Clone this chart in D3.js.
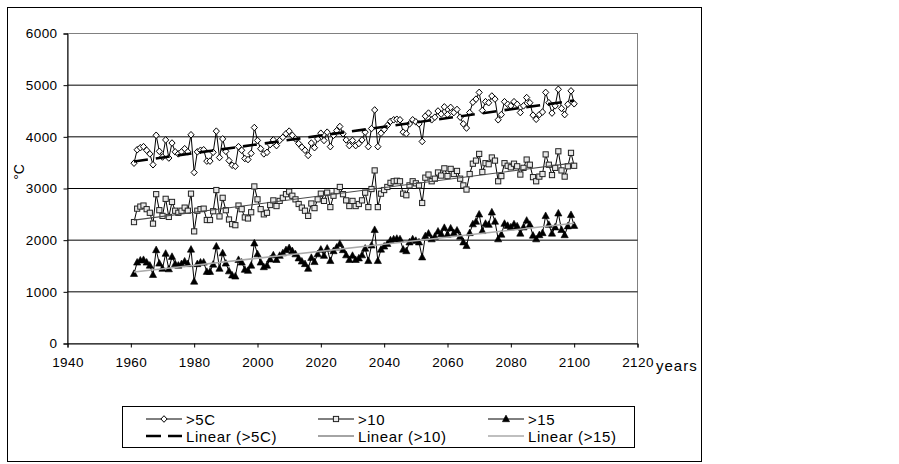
<!DOCTYPE html>
<html><head><meta charset="utf-8">
<script src="https://cdn.jsdelivr.net/npm/d3@7"></script>
<style>body{margin:0;background:#fff}svg{display:block}text{font-family:"Liberation Sans",Arial,sans-serif;fill:#000}</style>
</head><body><svg id="c" width="899" height="464"></svg>
<script>
const startYear = 1961;
const yTicks = [0,1000,2000,3000,4000,5000,6000];
const xTicks = [1940,1960,1980,2000,2020,2040,2060,2080,2100,2120];
const seriesNames = [">5C", ">10", ">15"];
const trendNames = ["Linear (>5C)", "Linear (>10)", "Linear (>15)"];
const gt5 = [
3490,3750,3790,3810,3740,3670,3460,4030,3720,3610,
3940,3590,3880,3710,3670,3710,3770,3710,4040,3310,
3710,3740,3750,3530,3530,3700,4110,3600,3960,3720,
3540,3450,3430,3810,3740,3580,3560,3680,4180,3930,
3770,3670,3700,3850,3940,3830,3930,3990,4060,4110,
4030,3960,3870,3800,3740,3640,3880,3790,3960,4070,
3930,4090,3810,4030,4120,4200,4060,3940,3830,3930,
3830,3870,3940,4090,3810,4160,4520,3810,4070,4140,
4220,4300,4330,4340,4330,4090,4060,4250,4330,4290,
4250,3910,4400,4460,4330,4380,4500,4440,4580,4430,
4570,4470,4530,4380,4250,4170,4470,4670,4730,4860,
4510,4680,4660,4790,4730,4330,4430,4680,4630,4600,
4680,4630,4470,4600,4760,4660,4420,4340,4430,4480,
4860,4660,4460,4600,4920,4550,4430,4630,4890,4640];
const gt10 = [
2350,2610,2650,2670,2600,2530,2320,2890,2580,2470,
2800,2450,2740,2570,2530,2570,2630,2570,2900,2170,
2570,2600,2610,2390,2390,2560,2970,2460,2820,2580,
2400,2310,2290,2670,2600,2440,2420,2540,3040,2790,
2600,2500,2530,2680,2770,2660,2760,2820,2890,2940,
2860,2790,2700,2630,2570,2470,2710,2620,2790,2900,
2760,2920,2640,2860,2950,3030,2890,2770,2660,2760,
2660,2700,2770,2920,2640,2990,3350,2640,2900,2970,
3030,3110,3140,3150,3140,2900,2870,3060,3140,3100,
3060,2720,3210,3270,3140,3190,3310,3250,3390,3240,
3380,3280,3340,3190,3060,2980,3280,3480,3540,3670,
3320,3490,3470,3600,3540,3140,3240,3490,3440,3410,
3480,3430,3270,3400,3560,3460,3220,3140,3230,3280,
3660,3460,3260,3400,3720,3350,3230,3430,3690,3440];
const gt15 = [
1350,1570,1610,1620,1570,1510,1330,1810,1550,1450,
1740,1440,1680,1540,1510,1540,1590,1540,1820,1200,
1540,1570,1570,1390,1390,1530,1880,1450,1750,1550,
1400,1320,1300,1620,1570,1430,1410,1510,1940,1730,
1570,1480,1510,1630,1710,1620,1700,1750,1810,1850,
1790,1730,1650,1590,1540,1450,1660,1580,1730,1820,
1700,1840,1600,1790,1860,1930,1810,1710,1620,1700,
1620,1650,1710,1840,1600,1900,2200,1600,1820,1880,
1930,2000,2020,2030,2020,1820,1790,1960,2020,1990,
1960,1670,2080,2130,2020,2070,2170,2120,2240,2110,
2230,2140,2190,2070,1960,1890,2140,2310,2360,2500,
2180,2320,2300,2540,2360,2020,2110,2320,2280,2250,
2310,2270,2130,2250,2380,2300,2090,2020,2100,2140,
2470,2300,2130,2250,2520,2200,2100,2270,2490,2280];

const svg = d3.select("#c");
svg.append("rect").attr("x",7.5).attr("y",7.5).attr("width",694).attr("height",454)
  .attr("fill","#fff").attr("stroke","#000").attr("stroke-width",1);

const x = d3.scaleLinear().domain([1940,2120]).range([67.5,637.5]);
const y = d3.scaleLinear().domain([0,6000]).range([343.5,33.5]);

svg.append("rect").attr("x",67.5).attr("y",33.5).attr("width",570).attr("height",310)
  .attr("fill","none").attr("stroke","#808080").attr("stroke-width",1);
svg.append("g").selectAll("line").data(yTicks.filter(v=>v>0&&v<6000)).join("line")
  .attr("x1",67.5).attr("x2",637.5).attr("y1",d=>y(d)).attr("y2",d=>y(d))
  .attr("stroke","#000").attr("stroke-width",1);

const tickFont = g => g.selectAll("text").attr("font-size",13.5).attr("letter-spacing","0.4px")
  .style("font-family","Liberation Sans, Arial, sans-serif");
const yAxis = d3.axisLeft(y).tickValues(yTicks).tickSize(4).tickPadding(6).tickFormat(d3.format("d"));
const gy = svg.append("g").attr("transform","translate(67.5,0)").call(yAxis);
gy.select(".domain").attr("stroke","#000");
tickFont(gy);
const xAxis = d3.axisBottom(x).tickValues(xTicks).tickSize(4).tickPadding(10).tickFormat(d3.format("d"));
const gx = svg.append("g").attr("transform","translate(0,343.5)").call(xAxis);
gx.select(".domain").attr("stroke","#000");
tickFont(gx);

svg.append("text").attr("x",656).attr("y",371).attr("font-size",15).attr("letter-spacing","1px").text("years");
svg.append("text").attr("transform","translate(24,172) rotate(-90)").attr("text-anchor","middle")
  .attr("font-size",14).text("°C");

const years = d3.range(gt5.length).map(i=>startYear+i);
const datasets = [gt5, gt10, gt15];
const line = d3.line().x((d,i)=>x(years[i])).y(d=>y(d));

function marker(g, kind, cx, cy){
  if(kind===0){
    g.append("path").attr("d",`M${cx},${cy-3.3}L${cx+3.1},${cy}L${cx},${cy+3.3}L${cx-3.1},${cy}Z`)
      .attr("fill","#fff").attr("stroke","#000").attr("stroke-width",1);
  } else if(kind===1){
    g.append("rect").attr("x",cx-2.6).attr("y",cy-2.6).attr("width",5.2).attr("height",5.2)
      .attr("fill","#e8e8e8").attr("stroke","#222").attr("stroke-width",1);
  } else {
    g.append("path").attr("d",`M${cx},${cy-3.9}L${cx+3.6},${cy+2.7}L${cx-3.6},${cy+2.7}Z`)
      .attr("fill","#000").attr("stroke","#000").attr("stroke-width",0.6);
  }
}

datasets.forEach((ds,k)=>{
  svg.append("path").attr("d",line(ds)).attr("fill","none").attr("stroke","#000").attr("stroke-width",1);
  const g = svg.append("g");
  ds.forEach((v,i)=>marker(g,k,x(years[i]),y(v)));
});

const trendStyles = [
  {stroke:"#000", width:2.6, dash:"14,8"},
  {stroke:"#4a4a4a", width:1.2, dash:null},
  {stroke:"#aaa", width:1.6, dash:null}
];
datasets.forEach((ds,k)=>{
  const mx = d3.mean(years), my = d3.mean(ds);
  let num=0, den=0;
  ds.forEach((v,i)=>{num+=(years[i]-mx)*(v-my); den+=(years[i]-mx)**2;});
  const b = num/den, a = my - b*mx;
  const x0 = years[0], x1 = years[years.length-1];
  const p = svg.append("line").attr("x1",x(x0)).attr("y1",y(a+b*x0)).attr("x2",x(x1)).attr("y2",y(a+b*x1))
    .attr("stroke",trendStyles[k].stroke).attr("stroke-width",trendStyles[k].width);
  if(trendStyles[k].dash) p.attr("stroke-dasharray",trendStyles[k].dash);
});

const lg = svg.append("g");
lg.append("rect").attr("x",122.5).attr("y",406.5).attr("width",512).attr("height",41)
  .attr("fill","#fff").attr("stroke","#000").attr("stroke-width",1);
const colX = [146, 318, 488];
const rowY = [419, 436];
seriesNames.forEach((n,k)=>{
  lg.append("line").attr("x1",colX[k]).attr("x2",colX[k]+36).attr("y1",rowY[0]).attr("y2",rowY[0])
    .attr("stroke","#000").attr("stroke-width",1);
  marker(lg,k,colX[k]+18,rowY[0]);
  lg.append("text").attr("x",colX[k]+40).attr("y",rowY[0]+5.5).attr("font-size",15).attr("letter-spacing","0.6px").text(n);
});
trendNames.forEach((n,k)=>{
  const l = lg.append("line").attr("x1",colX[k]).attr("x2",colX[k]+36).attr("y1",rowY[1]).attr("y2",rowY[1])
    .attr("stroke",trendStyles[k].stroke).attr("stroke-width",trendStyles[k].width);
  if(trendStyles[k].dash) l.attr("stroke-dasharray","15,7");
  lg.append("text").attr("x",colX[k]+40).attr("y",rowY[1]+5.5).attr("font-size",15).attr("letter-spacing","0.6px").text(n);
});
</script></body></html>
